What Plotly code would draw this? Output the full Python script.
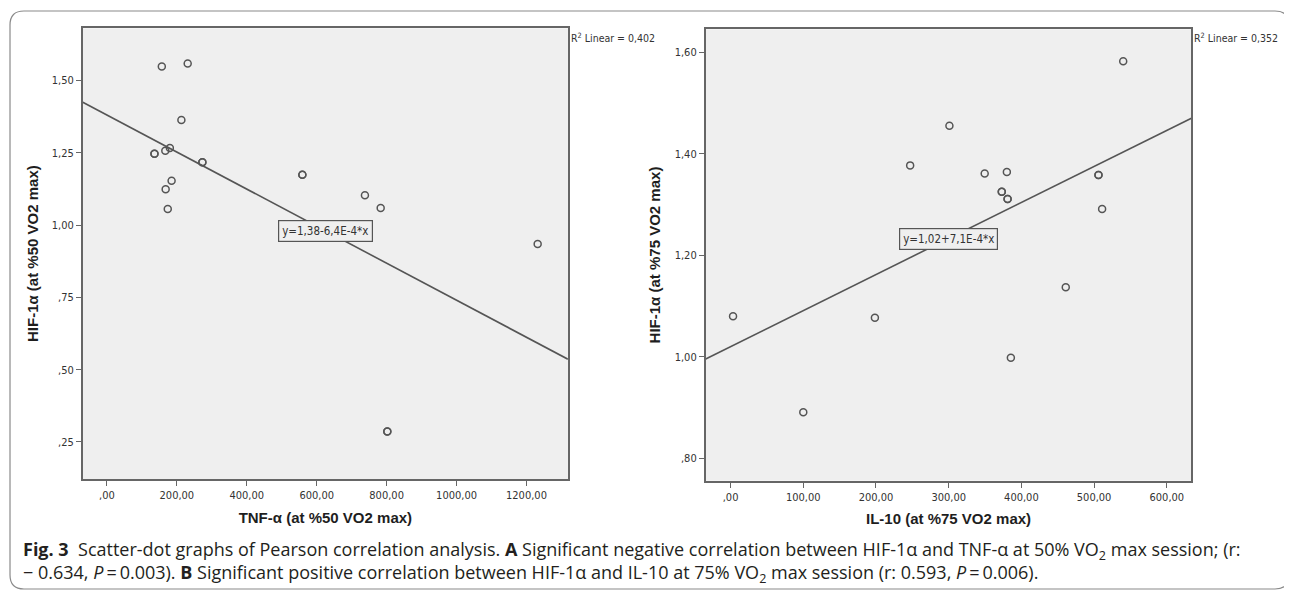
import re
import plotly.graph_objects as go

# ---------------- data ----------------
tnf_50 = [157, 231, 213, 136, 136, 167, 180, 273, 273, 185, 168, 174, 559, 559, 738, 783, 1232, 802, 802]
hif_50 = [1.548, 1.558, 1.363, 1.246, 1.246, 1.257, 1.266, 1.217, 1.217, 1.153, 1.124, 1.055, 1.174, 1.174,
          1.103, 1.059, 0.934, 0.286, 0.286]
il10_75 = [540, 301, 247, 349.5, 380, 373, 373, 381, 381, 506, 506, 511, 461, 3.4, 198.5, 385.5, 100]
hif_75 = [1.582, 1.455, 1.377, 1.361, 1.364, 1.325, 1.325, 1.311, 1.311, 1.358, 1.358, 1.291, 1.137,
          1.080, 1.077, 0.998, 0.891]

fit_left = {"a": 1.38, "b": -6.4e-4, "label": "y=1,38-6,4E-4*x", "r2": "R<sup>2</sup> Linear = 0,402"}
fit_right = {"a": 1.02, "b": 7.1e-4, "label": "y=1,02+7,1E-4*x", "r2": "R<sup>2</sup> Linear = 0,352"}

x_range_left = [-69, 1318.5]
y_range_left = [0.122, 1.68]
x_range_right = [-34.2, 633.8]
y_range_right = [0.756, 1.645]

x_ticks_left = [0, 200, 400, 600, 800, 1000, 1200]
x_ticktext_left = [",00", "200,00", "400,00", "600,00", "800,00", "1000,00", "1200,00"]
y_ticks_left = [0.25, 0.50, 0.75, 1.00, 1.25, 1.50]
y_ticktext_left = [",25", ",50", ",75", "1,00", "1,25", "1,50"]
x_ticks_right = [0, 100, 200, 300, 400, 500, 600]
x_ticktext_right = [",00", "100,00", "200,00", "300,00", "400,00", "500,00", "600,00"]
y_ticks_right = [0.80, 1.00, 1.20, 1.40, 1.60]
y_ticktext_right = [",80", "1,00", "1,20", "1,40", "1,60"]

label_pos_left = (625, 0.979)
label_pos_right = (300, 1.233)

caption_1 = ("<b>Fig. 3</b>  Scatter-dot graphs of Pearson correlation analysis. <b>A</b> Significant negative "
             "correlation between HIF-1α and TNF-α at 50% VO<sub>2</sub> max session; (r:")
caption_2 = ("− 0.634, <i>P</i>\u2009=\u20090.003). <b>B</b> Significant positive correlation between HIF-1α "
             "and IL-10 at 75% VO<sub>2</sub> max session (r: 0.593, <i>P</i>\u2009=\u20090.006).")

# ---------------- layout helpers (page has an 8px body margin) ----------------
OFF = 8
W, H = 1292 - OFF, 592 - OFF


def px(x):
    return (x - OFF) / W


def py(y):
    return 1 - (y - OFF) / H


NARROW = "DejaVu Sans Condensed, Liberation Sans, Arial"
TICKFONT = dict(family=NARROW, size=11, color="#333")
TITLEFONT = dict(family="Liberation Sans, Arial", size=15, color="#1e1e1e", weight="bold")
PLOT_BG = "#efefef"
FRAME = "#666666"
MARK = "#555555"

fig = go.Figure()


def add_panel(xs, ys, fit, xr, xa, ya):
    fig.add_trace(go.Scatter(
        x=xs, y=ys, mode="markers", xaxis=xa, yaxis=ya, showlegend=False,
        marker=dict(symbol="circle-open", size=7, color=MARK, line=dict(width=1.5, color=MARK))))
    lx = [xr[0], xr[1]]
    ly = [fit["a"] + fit["b"] * v for v in lx]
    fig.add_trace(go.Scatter(x=lx, y=ly, mode="lines", xaxis=xa, yaxis=ya, showlegend=False,
                             line=dict(color="#555555", width=1.6)))


add_panel(tnf_50, hif_50, fit_left, x_range_left, "x", "y")
add_panel(il10_75, hif_75, fit_right, x_range_right, "x2", "y2")

axis_common = dict(showgrid=False, zeroline=False, showline=True, linecolor=FRAME, linewidth=1.6,
                   mirror=True, ticks="outside", ticklen=5, tickcolor=FRAME, tickwidth=1.2,
                   tickfont=TICKFONT, automargin=False)

L = dict(x0=82.8, x1=567.9, y0=28.3, y1=479)
R = dict(x0=705.7, x1=1191.4, y0=29.3, y1=480.7)

fig.update_layout(
    width=W, height=H, margin=dict(l=0, r=0, t=0, b=0),
    paper_bgcolor="white", plot_bgcolor=PLOT_BG,
    xaxis=dict(domain=[px(L["x0"]), px(L["x1"])], anchor="y", range=x_range_left,
               tickvals=x_ticks_left, ticktext=x_ticktext_left,
               title=dict(text="TNF-α (at %50 VO2 max)", font=TITLEFONT, standoff=11), **axis_common),
    yaxis=dict(domain=[py(L["y1"]), py(L["y0"])], anchor="x", range=y_range_left,
               tickvals=y_ticks_left, ticktext=y_ticktext_left,
               title=dict(text="HIF-1α (at %50 VO2 max)", font=TITLEFONT, standoff=10), **axis_common),
    xaxis2=dict(domain=[px(R["x0"]), px(R["x1"])], anchor="y2", range=x_range_right,
                tickvals=x_ticks_right, ticktext=x_ticktext_right,
                title=dict(text="IL-10 (at %75 VO2 max)", font=TITLEFONT, standoff=11), **axis_common),
    yaxis2=dict(domain=[py(R["y1"]), py(R["y0"])], anchor="x2", range=y_range_right,
                tickvals=y_ticks_right, ticktext=y_ticktext_right,
                title=dict(text="HIF-1α (at %75 VO2 max)", font=TITLEFONT, standoff=10), **axis_common),
)

# regression equation labels
for fit, pos, xa, ya in [(fit_left, label_pos_left, "x", "y"), (fit_right, label_pos_right, "x2", "y2")]:
    fig.add_annotation(x=pos[0], y=pos[1], xref=xa, yref=ya, text=fit["label"], showarrow=False,
                       font=dict(family=NARROW, size=11.5, color="#333"),
                       bgcolor=PLOT_BG, bordercolor="#555", borderwidth=1.2, borderpad=3)

# R² labels (right of each plot, at top)
for fit, xr_px in [(fit_left, 569), (fit_right, 1192)]:
    fig.add_annotation(x=px(xr_px), y=py(38), xref="paper", yref="paper",
                       xanchor="left", yanchor="middle", text=fit["r2"], showarrow=False,
                       font=dict(family=NARROW, size=10.5, color="#333"))

# caption
for txt, ypx in [(caption_1, 550), (caption_2, 573)]:
    fig.add_annotation(x=px(21), y=py(ypx), xref="paper", yref="paper", xanchor="left",
                       yanchor="middle", text=txt, showarrow=False, align="left",
                       font=dict(family="Open Sans, Noto Sans", size=18, color="#231f20"))

# outer rounded frame (pixel geometry converted to paper coords)
x0, y0, x1, y1, r = 10, 11, 1289, 589, 14
path = (f"M {x0 + r} {y0} L {x1 - r} {y0} Q {x1} {y0} {x1} {y0 + r} L {x1} {y1 - r} "
        f"Q {x1} {y1} {x1 - r} {y1} L {x0 + r} {y1} Q {x0} {y1} {x0} {y1 - r} L {x0} {y0 + r} "
        f"Q {x0} {y0} {x0 + r} {y0} Z")
out, ci = [], 0
for t in path.split(" "):
    if re.fullmatch(r"[-\d.]+", t):
        v = float(t)
        out.append(f"{px(v):.5f}" if ci % 2 == 0 else f"{py(v):.5f}")
        ci += 1
    else:
        out.append(t)
fig.add_shape(type="path", path=" ".join(out), xref="paper", yref="paper",
              line=dict(color="#8a8a8a", width=1.2), layer="below")

fig.write_html("out.html")
